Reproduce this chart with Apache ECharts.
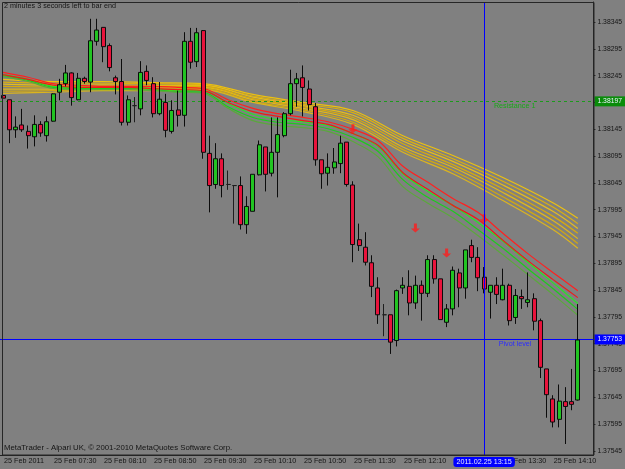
<!DOCTYPE html>
<html>
<head>
<meta charset="utf-8">
<script src="https://cdn.jsdelivr.net/npm/echarts@6/dist/echarts.min.js"></script>
<style>
html, body { margin: 0; padding: 0; background: #808080; }
#chart { width: 625px; height: 469px; }
</style>
</head>
<body>
<div id="chart"></div>
<script>
// EURUSD-like M5 bars, 25 Feb 2011 (two empty slots on the right = chart shift)
var times = ['06:50','06:55',
  '07:00','07:05','07:10','07:15','07:20','07:25','07:30','07:35','07:40','07:45','07:50','07:55',
  '08:00','08:05','08:10','08:15','08:20','08:25','08:30','08:35','08:40','08:45','08:50','08:55',
  '09:00','09:05','09:10','09:15','09:20','09:25','09:30','09:35','09:40','09:45','09:50','09:55',
  '10:00','10:05','10:10','10:15','10:20','10:25','10:30','10:35','10:40','10:45','10:50','10:55',
  '11:00','11:05','11:10','11:15','11:20','11:25','11:30','11:35','11:40','11:45','11:50','11:55',
  '12:00','12:05','12:10','12:15','12:20','12:25','12:30','12:35','12:40','12:45','12:50','12:55',
  '13:00','13:05','13:10','13:15','13:20','13:25','13:30','13:35','13:40','13:45','13:50','13:55',
  '14:00','14:05','14:10','14:15','14:20','14:25','14:30','14:35','14:40'];

var opens = [1.38208,1.38200,1.38144,1.38153,1.38141,1.38131,1.38154,1.38133,1.38160,1.38214,
  1.38230,1.38250,1.38200,1.38240,1.38233,1.38309,1.38335,1.38301,1.38241,1.38234,
  1.38158,1.38189,1.38183,1.38253,1.38230,1.38174,1.38195,1.38141,1.38181,1.38171,
  1.38309,1.38271,1.38329,1.38100,1.38042,1.38090,1.38042,1.38040,1.38040,1.37967,
  1.37992,1.38060,1.38112,1.38063,1.38102,1.38133,1.38174,1.38230,1.38241,1.38220,
  1.38187,1.38088,1.38063,1.38073,1.38081,1.38121,1.38041,1.37939,1.37925,1.37896,
  1.37849,1.37799,1.37799,1.37751,1.37849,1.37852,1.37821,1.37854,1.37839,1.37902,
  1.37866,1.37785,1.37810,1.37877,1.37849,1.37928,1.37906,1.37869,1.37841,1.37854,
  1.37827,1.37854,1.37794,1.37833,1.37822,1.37829,1.37788,1.37698,1.37642,1.37604,
  1.37637,1.37637,1.37640];
var closes = [1.38203,1.38144,1.38149,1.38144,1.38133,1.38154,1.38138,1.38159,1.38211,1.38228,
  1.38250,1.38204,1.38240,1.38234,1.38310,1.38330,1.38299,1.38260,1.38234,1.38158,
  1.38200,1.38189,1.38251,1.38236,1.38174,1.38201,1.38143,1.38180,1.38171,1.38309,
  1.38270,1.38325,1.38102,1.38040,1.38090,1.38040,1.38042,1.38040,1.37967,1.38001,
  1.38061,1.38116,1.38061,1.38102,1.38135,1.38174,1.38230,1.38239,1.38223,1.38191,
  1.38088,1.38062,1.38074,1.38084,1.38119,1.38042,1.37930,1.37928,1.37897,1.37852,
  1.37799,1.37799,1.37748,1.37844,1.37854,1.37821,1.37854,1.37839,1.37902,1.37866,
  1.37790,1.37810,1.37882,1.37849,1.37920,1.37906,1.37868,1.37847,1.37854,1.37837,
  1.37854,1.37788,1.37835,1.37829,1.37827,1.37787,1.37701,1.37650,1.37599,1.37638,
  1.37628,1.37632,1.37752];
var lows = [1.38200,1.38119,1.38129,1.38140,1.38109,1.38113,1.38131,1.38122,1.38159,1.38199,
  1.38225,1.38189,1.38199,1.38230,1.38214,1.38301,1.38270,1.38253,1.38210,1.38152,
  1.38152,1.38158,1.38171,1.38227,1.38167,1.38171,1.38130,1.38137,1.38150,1.38150,
  1.38258,1.38261,1.38090,1.37990,1.38034,1.38018,1.38032,1.37969,1.37958,1.37950,
  1.37992,1.38059,1.38029,1.38057,1.38018,1.38130,1.38171,1.38187,1.38169,1.38180,
  1.38077,1.38034,1.38040,1.38062,1.38063,1.38038,1.37897,1.37918,1.37891,1.37832,
  1.37782,1.37759,1.37726,1.37740,1.37838,1.37798,1.37810,1.37788,1.37832,1.37857,
  1.37790,1.37776,1.37798,1.37813,1.37829,1.37897,1.37843,1.37839,1.37792,1.37819,
  1.37826,1.37779,1.37782,1.37810,1.37813,1.37770,1.37681,1.37607,1.37589,1.37589,
  1.37558,1.37621,1.37639];
var highs = [1.38225,1.38200,1.38169,1.38183,1.38152,1.38171,1.38160,1.38169,1.38212,1.38239,
  1.38265,1.38251,1.38250,1.38243,1.38351,1.38351,1.38335,1.38305,1.38245,1.38276,
  1.38208,1.38205,1.38272,1.38264,1.38242,1.38233,1.38211,1.38199,1.38217,1.38326,
  1.38334,1.38334,1.38330,1.38133,1.38119,1.38100,1.38068,1.38040,1.38057,1.38020,
  1.38061,1.38124,1.38112,1.38167,1.38167,1.38177,1.38256,1.38250,1.38264,1.38236,
  1.38194,1.38088,1.38100,1.38110,1.38133,1.38121,1.38048,1.37969,1.37953,1.37910,
  1.37869,1.37819,1.37799,1.37846,1.37869,1.37882,1.37872,1.37863,1.37910,1.37910,
  1.37866,1.37819,1.37889,1.37885,1.37920,1.37939,1.37925,1.37888,1.37854,1.37869,
  1.37885,1.37857,1.37847,1.37846,1.37878,1.37839,1.37792,1.37698,1.37649,1.37669,
  1.37664,1.37698,1.37819];

// moving average ribbons, read at sampled bars
var slowIdx = [0,8,16,24,32,40,48,56,64,72,80,88,92];
var slow = [
  [1.38238,1.38234,1.38234,1.38232,1.38230,1.38210,1.38195,1.38180,1.38133,1.38096,1.38055,1.38008,1.37979],
  [1.38233,1.38231,1.38231,1.38230,1.38228,1.38207,1.38192,1.38176,1.38128,1.38090,1.38048,1.38000,1.37969],
  [1.38229,1.38227,1.38228,1.38227,1.38227,1.38205,1.38189,1.38171,1.38123,1.38085,1.38041,1.37992,1.37960],
  [1.38225,1.38224,1.38226,1.38225,1.38225,1.38202,1.38187,1.38167,1.38118,1.38079,1.38034,1.37983,1.37951],
  [1.38220,1.38220,1.38223,1.38222,1.38223,1.38200,1.38184,1.38163,1.38112,1.38074,1.38027,1.37975,1.37941],
  [1.38216,1.38217,1.38220,1.38220,1.38221,1.38197,1.38181,1.38158,1.38107,1.38068,1.38019,1.37966,1.37932],
  [1.38212,1.38214,1.38217,1.38217,1.38219,1.38195,1.38178,1.38154,1.38102,1.38062,1.38012,1.37958,1.37923]
];
var fastIdx = [0,4,8,12,16,20,24,28,32,36,40,44,48,52,56,60,64,68,72,76,80,84,88,92];
var redLines = [
  [1.38251,1.38242,1.38230,1.38227,1.38225,1.38225,1.38225,1.38223,1.38221,1.38200,1.38184,1.38174,1.38167,1.38159,1.38145,1.38124,1.38076,1.38046,1.38016,1.37990,1.37951,1.37913,1.37878,1.37844],
  [1.38247,1.38238,1.38227,1.38223,1.38223,1.38223,1.38221,1.38219,1.38217,1.38195,1.38178,1.38169,1.38161,1.38154,1.38137,1.38115,1.38064,1.38033,1.38003,1.37977,1.37938,1.37900,1.37865,1.37831]
];
var greenLines = [
  [1.38247,1.38238,1.38225,1.38223,1.38223,1.38223,1.38221,1.38217,1.38217,1.38193,1.38173,1.38163,1.38159,1.38152,1.38137,1.38113,1.38062,1.38029,1.38003,1.37971,1.37936,1.37897,1.37859,1.37820],
  [1.38245,1.38236,1.38223,1.38221,1.38221,1.38221,1.38219,1.38215,1.38214,1.38187,1.38167,1.38158,1.38154,1.38146,1.38130,1.38104,1.38051,1.38018,1.37992,1.37958,1.37923,1.37885,1.37848,1.37809],
  [1.38243,1.38234,1.38221,1.38219,1.38219,1.38219,1.38217,1.38214,1.38212,1.38184,1.38161,1.38152,1.38148,1.38141,1.38122,1.38094,1.38038,1.38007,1.37980,1.37947,1.37911,1.37874,1.37837,1.37798]
];

// sell arrows [bar, price]
var arrows = [[56, 1.38146], [66, 1.37961], [71, 1.37914], [77, 1.37978]];

var resistance = 1.38197;
var pivot = 1.37753;
var vLineTime = '13:15';
var vLineLabel = '2011.02.25 13:15';

var yTicks = [1.37545,1.37595,1.37645,1.37695,1.37745,1.37795,1.37845,1.37895,1.37945,
  1.37995,1.38045,1.38095,1.38145,1.38195,1.38245,1.38295,1.38345];

var font = 'Liberation Sans, Arial, sans-serif';
var txt = '#141414';

var myChart = echarts.init(document.getElementById('chart'));

var ohlc = [];
for (var i = 0; i < opens.length; i++) {
  ohlc.push([opens[i], closes[i], lows[i], highs[i]]);
}
function pts(idx, vals) {
  var out = [];
  for (var j = 0; j < idx.length; j++) out.push([idx[j], vals[j]]);
  return out;
}

var slowColors = ['#ecc010', '#dcb00c', '#e6bc1c', '#d8aa0a', '#e2b818', '#d2a80e', '#dcb41e'];
var redColors = ['#ff2020', '#ee1a1a'];
var greenColors = ['#26e626', '#1ccc1c', '#5aa83c'];

var series = [];
slow.forEach(function (arr, k) {
  series.push({type: 'line', data: pts(slowIdx, arr), smooth: 0.35, symbol: 'none', silent: true,
    lineStyle: {color: slowColors[k], width: 1.2}, z: 2});
});
greenLines.forEach(function (arr, k) {
  series.push({type: 'line', data: pts(fastIdx, arr), smooth: 0.35, symbol: 'none', silent: true,
    lineStyle: {color: greenColors[k], width: 1.2}, z: 3});
});
redLines.forEach(function (arr, k) {
  series.push({type: 'line', data: pts(fastIdx, arr), smooth: 0.35, symbol: 'none', silent: true,
    lineStyle: {color: redColors[k], width: 1.2}, z: 3});
});

series.push({
  type: 'candlestick',
  data: ohlc,
  barWidth: 4.5,
  z: 5,
  itemStyle: {
    color: '#22c422', color0: '#e8143c',
    borderColor: '#0c0c0c', borderColor0: '#0c0c0c', borderColorDoji: '#1e1e1e',
    borderWidth: 1
  }
});

series.push({
  type: 'scatter',
  data: arrows,
  symbol: 'path://M3,0L6,0L6,5L9,5L4.5,9L0,5L3,5Z',
  symbolSize: [9, 9],
  itemStyle: {color: '#ff1c1c'},
  z: 6,
  silent: true
});

// a horizontal level: own series so the line takes the series colour
function level(value, name, color, boxColor, textColor, dash, gap) {
  return {
    type: 'scatter',
    data: [[0, value]],
    symbol: 'none',
    silent: true,
    z: 4,
    itemStyle: {color: color, borderColor: color},
    markLine: {
      symbol: 'none', silent: true, animation: false, precision: 5,
      lineStyle: {color: color, type: dash, width: 1, opacity: 1},
      data: [
        {yAxis: value,
          label: {position: 'end', formatter: value.toFixed(5), backgroundColor: boxColor, color: '#eef2ff',
            padding: [2, 3, 1, 3], distance: 1, fontSize: 6.8, fontFamily: font}},
        {yAxis: value,
          label: {position: 'insideEndBottom', formatter: name, color: textColor, distance: 1,
            padding: [0, gap, 0, 0], fontSize: 7.2, fontFamily: font}}
      ]
    }
  };
}
series.push(level(resistance, 'Resistance 1', '#1c9a1c', '#0a8c0a', '#18a818', [3, 3], 57));
series.push(level(pivot, 'Pivot level', '#0000ff', '#0000ff', '#2c2cff', 'solid', 61));

var option = {
  animation: false,
  backgroundColor: '#808080',
  title: [
    {text: '2 minutes 3 seconds left to bar end', left: 4, top: 3, padding: 0,
      textStyle: {fontSize: 7.2, fontWeight: 'normal', color: txt, fontFamily: font}},
    {text: 'MetaTrader - Alpari UK, \u00a9 2001-2010 MetaQuotes Software Corp.', left: 4, top: 444, padding: 0,
      textStyle: {fontSize: 7.8, fontWeight: 'normal', color: txt, fontFamily: font}}
  ],
  axisPointer: {triggerOn: 'none'},
  grid: {left: 0, right: 31.25, top: 2, bottom: 14, containLabel: false},
  xAxis: {
    type: 'category',
    data: times,
    boundaryGap: true,
    axisLine: {lineStyle: {color: '#222'}},
    axisTick: {interval: 7, alignWithLabel: true, length: 3, lineStyle: {color: '#222'}},
    axisLabel: {
      interval: 7, align: 'left', margin: 3, fontSize: 7.2, color: txt, fontFamily: font,
      padding: [0, 0, 0, 1],
      formatter: function (v, idx) { return idx === 0 ? '25 Feb 2011' : '25 Feb ' + v; }
    },
    splitLine: {show: false},
    axisPointer: {
      show: true, type: 'line', value: times.indexOf(vLineTime), status: 'show', snap: false,
      triggerTooltip: false,
      lineStyle: {color: '#0000ff', width: 1, type: 'solid'},
      label: {show: true, formatter: function () { return vLineLabel; }, backgroundColor: '#0000ff',
        color: '#e8e8ff', padding: [2, 3, 1, 3], fontSize: 7.2, margin: 2, fontFamily: font}
    }
  },
  yAxis: {
    type: 'value',
    position: 'right',
    min: 1.375375,
    max: 1.383823,
    axisLine: {show: true, lineStyle: {color: '#222'}},
    axisTick: {show: true, length: 2, customValues: yTicks, lineStyle: {color: '#222'}},
    axisLabel: {customValues: yTicks, margin: 4, fontSize: 6.8, color: txt, fontFamily: font,
      formatter: function (v) { return v.toFixed(5); }},
    splitLine: {show: false}
  },
  graphic: [
    {type: 'rect', silent: true, z: 100,
      shape: {x: 2.5, y: 2.5, width: 591.5, height: 452.5},
      style: {fill: null, stroke: '#262626', lineWidth: 1}}
  ],
  series: series
};

myChart.setOption(option);
</script>
</body>
</html>
